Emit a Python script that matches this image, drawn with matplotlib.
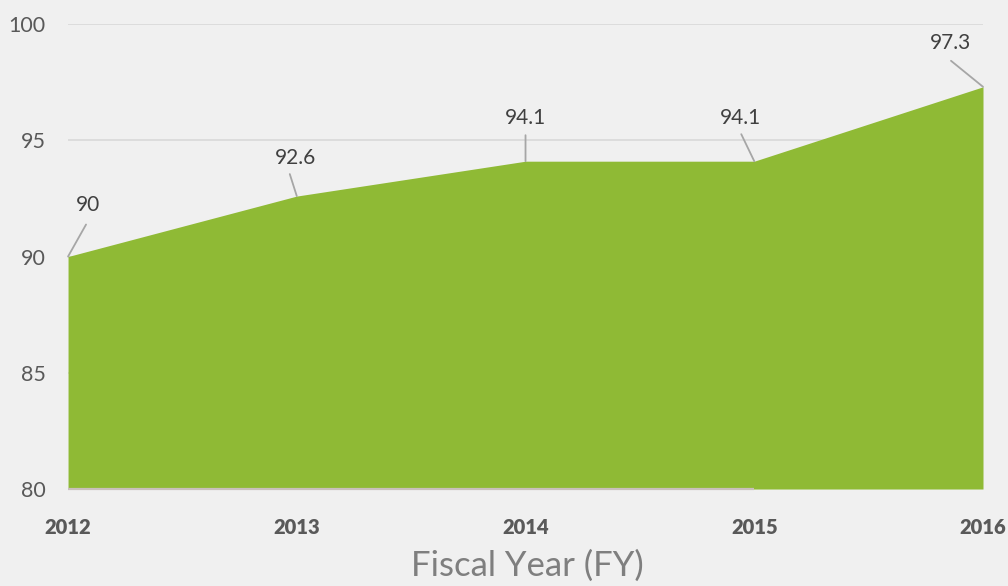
import matplotlib
matplotlib.use("Agg")
import matplotlib.pyplot as plt

years = [2012, 2013, 2014, 2015, 2016]
values = [90.0, 92.6, 94.1, 94.1, 97.3]
value_labels = ["90", "92.6", "94.1", "94.1", "97.3"]
y_ticks = [80, 85, 90, 95, 100]

# label offsets (pixels) from the data point: (text dx, dy, leader start dx, dy)
label_offsets = [(20, 52, 18, 32), (-1, 38, -7, 22), (0, 43, 0, 26),
                 (-14, 43, -13, 27), (-33, 44, -32, 26)]

BG = "#f0f0f0"
GREEN = "#8fba35"
TEXT = "#404040"

plt.rcParams["font.family"] = ["Lato", "DejaVu Sans"]

fig = plt.figure(figsize=(10.08, 5.86), dpi=100, facecolor=BG)
ax = fig.add_axes([0.0675, 0.1655, 0.9077, 0.7935], facecolor=BG)

ax.fill_between(years, values, 80, color=GREEN, linewidth=0, zorder=2)
ax.set_xlim(years[0], years[-1])
ax.set_ylim(80, 100)

for y in y_ticks[1:]:
    ax.axhline(y, color="#d9d9d9", linewidth=1.2, zorder=1)
# bottom axis line (only drawn under part of the area, as in the source)
ax.plot([years[0], years[3]], [80, 80], color="#c9c0bc", linewidth=1.6,
        zorder=3, clip_on=False, solid_capstyle="butt")

for s in ax.spines.values():
    s.set_visible(False)

ax.set_yticks(y_ticks)
ax.set_yticklabels([str(v) for v in y_ticks])
ax.set_xticks(years)
ax.set_xticklabels([str(v) for v in years])
ax.tick_params(axis="y", length=0, pad=16, labelsize=15.5, labelcolor="#595959")
ax.tick_params(axis="x", length=0, pad=21, labelsize=14.5, labelcolor="#595959")
for t in ax.get_xticklabels():
    t.set_fontweight("heavy")

for x, v, lab, (tx, ty, lx, ly) in zip(years, values, value_labels, label_offsets):
    ax.annotate(lab, xy=(x, v), xytext=(tx, ty), textcoords="offset pixels",
                ha="center", va="center", fontsize=15, color=TEXT,
                annotation_clip=False, zorder=4)
    ax.annotate("", xy=(x, v), xytext=(lx, ly), textcoords="offset pixels",
                arrowprops=dict(arrowstyle="-", color="#a6a6a6", lw=1.3,
                                shrinkA=0, shrinkB=0),
                annotation_clip=False, zorder=4)

fig.text(0.523, 0.035, "Fiscal Year (FY)", ha="center", va="center",
         fontsize=25, color="#7f7f7f")

fig.savefig("out.png", dpi=100, facecolor=BG)
